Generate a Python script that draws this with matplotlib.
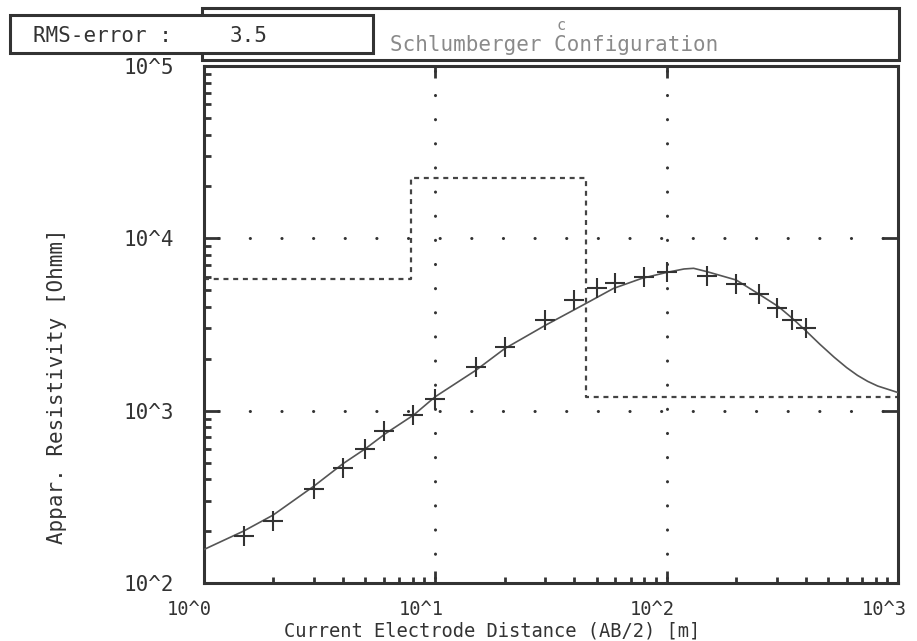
import matplotlib
matplotlib.use("Agg")
from matplotlib import pyplot as plt
from matplotlib import patches, transforms
from matplotlib.ticker import LogLocator, NullFormatter

matplotlib.rcParams['lines.scale_dashes'] = False
matplotlib.rcParams['font.family'] = 'DejaVu Sans Mono'

INK = '#333333'

# measured apparent resistivity (AB/2 in m, rho_a in Ohmm)
ab2 = [1.5, 2, 3, 4, 5, 6, 8, 10, 15, 20, 30, 40, 50, 60, 80, 100,
       150, 200, 250, 300, 350, 400]
rho_meas = [188, 230, 349, 467, 601, 762, 939, 1175, 1795, 2345, 3350, 4380,
            5120, 5530, 5990, 6340, 6070, 5410, 4770, 3920, 3350, 3030]

# computed response of the layered model
curve_x = [1.0, 1.5, 2.0, 3.0, 4.0, 5.0, 6.1, 8.1, 10, 15, 20, 30, 44, 59,
           78, 100, 119, 131, 150, 200, 248, 305, 350, 404, 460, 530, 600,
           668, 740, 817, 1000]
curve_y = [156, 201, 248, 365, 492, 601, 735, 945, 1202, 1714, 2291, 3131,
           4130, 5120, 5850, 6340, 6640, 6700, 6400, 5730, 4790, 4010, 3430,
           2870, 2427, 2042, 1778, 1603, 1479, 1390, 1274]

# layered model: top depths and resistivities
layer_top = [1.0, 7.9, 44.8, 1000]
layer_rho = [5800, 22400, 1200, 1200]

rms_error = 3.5

fig = plt.figure(figsize=(9.17, 6.41), dpi=100)
ax = fig.add_axes([203.5 / 917, 1 - 583 / 641, 694.5 / 917, 517 / 641])
ax.set_xscale('log')
ax.set_yscale('log')
ax.set_xlim(1, 1000)
ax.set_ylim(100, 1e5)

# dotted grid at the inner decades
for yv in [1e3, 1e4]:
    ax.axhline(yv, color=INK, lw=2.2, linestyle=(12.6, (0.1, 22.68)),
               dash_capstyle='round', zorder=1)
for xv in [10, 100]:
    ax.axvline(xv, color=INK, lw=2.2, linestyle=(13.7, (0.1, 17.28)),
               dash_capstyle='round', zorder=1)

ax.plot(layer_top, layer_rho, drawstyle='steps-post', color='#444444',
        lw=1.6, linestyle=(0, (3.6, 3.4)), zorder=2)
ax.plot(curve_x, curve_y, color='#555555', lw=1.2, zorder=3)
ax.plot(ab2, rho_meas, linestyle='none', marker='+', ms=15, mew=1.5,
        color=INK, zorder=4)

for sp in ax.spines.values():
    sp.set_linewidth(2.2)
    sp.set_color(INK)

ax.set_xticks([1, 10, 100, 1000], labels=['10^0', '10^1', '10^2', '10^3'])
ax.set_yticks([100, 1e3, 1e4, 1e5], labels=['10^2', '10^3', '10^4', '10^5'])
ax.xaxis.set_minor_locator(LogLocator(base=10, subs=range(2, 10)))
ax.yaxis.set_minor_locator(LogLocator(base=10, subs=range(2, 10)))
ax.xaxis.set_minor_formatter(NullFormatter())
ax.yaxis.set_minor_formatter(NullFormatter())

ax.tick_params(which='both', direction='in', color=INK, width=2,
               labelcolor=INK, labelsize=15)
ax.tick_params(which='major', top=True, right=True)
ax.tick_params(which='minor', top=False, right=False)
ax.xaxis.set_tick_params(which='major', length=8.5, pad=12, labelsize=13.5)
ax.xaxis.set_tick_params(which='minor', length=4)
ax.yaxis.set_tick_params(which='major', length=11.5, pad=21)
ax.yaxis.set_tick_params(which='minor', length=5)

shift = transforms.ScaledTranslation(-0.14, 0, fig.dpi_scale_trans)
for lab in ax.get_xticklabels():
    lab.set_transform(lab.get_transform() + shift)

fig.text(57 / 917, 1 - 386 / 641, 'Appar. Resistivity [Ohmm]', rotation=90,
         ha='center', va='center', fontsize=15, color=INK)
fig.text(492 / 917, 1 - 631 / 641, 'Current Electrode Distance (AB/2) [m]',
         ha='center', va='center', fontsize=13.5, color=INK)

# header boxes
title_box = patches.Rectangle((202 / 917, 1 - 60 / 641), 697 / 917, 52 / 641,
                              transform=fig.transFigure, facecolor='white',
                              edgecolor=INK, lw=2.2, zorder=5)
rms_box = patches.Rectangle((10 / 917, 1 - 53 / 641), 363 / 917, 38 / 641,
                            transform=fig.transFigure, facecolor='white',
                            edgecolor=INK, lw=2.2, zorder=6)
fig.patches.extend([title_box, rms_box])

fig.text(33 / 917, 1 - 36 / 641, 'RMS-error :', ha='left', va='center',
         fontsize=15, color=INK, zorder=7)
fig.text(230 / 917, 1 - 36 / 641, f'{rms_error:.1f}', ha='left', va='center',
         fontsize=15, color=INK, zorder=7)
fig.text(390 / 917, 1 - 45 / 641, 'Schlumberger Configuration', ha='left',
         va='center', fontsize=15, color='#8a8a8a', zorder=7)
fig.text(561 / 917, 1 - 25 / 641, 'c', ha='center', va='center',
         fontsize=11, color='#8a8a8a', zorder=7)

fig.savefig('out.png', dpi=100)
